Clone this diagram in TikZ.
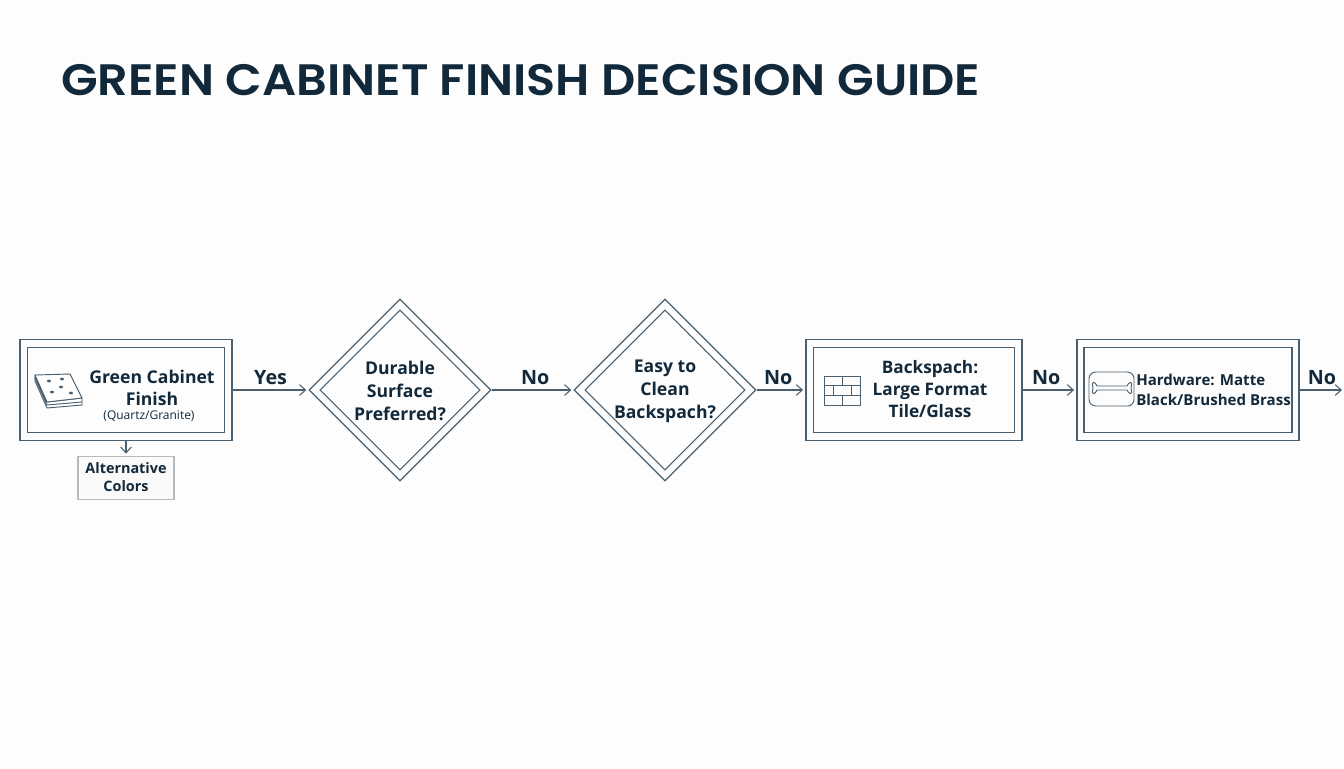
\documentclass[tikz,border=0pt]{standalone}
\usepackage{fontspec}
\setmainfont{Open Sans}
\newfontfamily\titlefont[FakeStretch=1.085]{Poppins SemiBold}
\usetikzlibrary{shapes,arrows.meta,positioning,calc}
\definecolor{inkdark}{HTML}{12293B}
\definecolor{linedark}{HTML}{4A5F6F}
\definecolor{linegrey}{HTML}{B4BABD}
\definecolor{pagebg}{HTML}{FDFDFD}
\tikzstyle{block} = [draw=linedark, rectangle, line width=1.4pt, inner sep=0pt, minimum height=75.75pt]
\tikzstyle{innerblock} = [draw=linedark, rectangle, line width=1.2pt, inner sep=0pt, minimum height=63.75pt]
\tikzstyle{decision} = [draw=linedark, diamond, line width=1pt, inner sep=0pt, minimum width=136.5pt, minimum height=136.5pt]
\tikzstyle{innerdecision} = [draw=linedark, diamond, line width=.8pt, inner sep=0pt, minimum width=120pt, minimum height=120pt]
\tikzstyle{coord} = [coordinate]
\tikzstyle{connector} = [-{Straight Barb[length=4.5pt,width=8pt]},line width=.8pt,draw=linedark,shorten >=1.5pt]
\tikzstyle{boxtext} = [text=inkdark, font=\fontsize{13.2pt}{16.5pt}\selectfont\bfseries, align=center, inner sep=0pt]
\tikzstyle{flowlabel} = [text=inkdark, font=\fontsize{14.8pt}{17pt}\selectfont\bfseries, inner sep=0pt, yshift=3.8pt]
\tikzstyle{icon} = [draw=linedark, line width=.7pt, line join=round]

\begin{document}
\begin{tikzpicture}[x=.75pt, y=-.75pt, auto]
    \fill [pagebg] (0,0) rectangle (1344,768);
    \useasboundingbox (0,0) rectangle (1344,768);

    \node (title) [anchor=west, text=inkdark, font=\fontsize{33pt}{38pt}\selectfont\titlefont, inner sep=0pt] at (61,80) {GREEN CABINET FINISH DECISION GUIDE};

    % flow line
    \node (finish) [block, minimum width=159pt] at (126,390) {};
    \node (durable) [decision, right of=finish, node distance=205.5pt] {};
    \node (clean) [decision, right of=durable, node distance=198.75pt] {};
    \node (tile) [block, minimum width=162pt, right of=clean, node distance=186.75pt] {};
    \node (hardware) [block, minimum width=166.5pt, right of=tile, node distance=205.5pt] {};
    \node (exit) [coord, right of=hardware, node distance=117pt] {};
    \node (colors) [draw=linegrey, rectangle, line width=1.2pt, fill=white!98!black, minimum width=72pt, minimum height=32.25pt, inner sep=0pt, below of=finish, node distance=66pt] {};

    \node (finishinner) [innerblock, minimum width=147.75pt] at (finish) {};
    \node (durableinner) [innerdecision] at (durable) {};
    \node (cleaninner) [innerdecision] at (clean) {};
    \node (tileinner) [innerblock, minimum width=150.75pt] at (tile) {};
    \node (hardwareinner) [innerblock, minimum width=156pt] at (hardware) {};

    % texts
    \node (finishtext) [boxtext] at (152,388) {Green Cabinet\\Finish};
    \node (finishsub) [text=inkdark, font=\fontsize{9pt}{10pt}\selectfont, inner sep=0pt] at (149,416) {(Quartz/Granite)};
    \node (durabletext) [boxtext, font=\fontsize{13.2pt}{17pt}\selectfont\bfseries, yshift=-.7pt] at (durable) {Durable\\Surface\\Preferred?};
    \node (cleantext) [boxtext, font=\fontsize{13.2pt}{17pt}\selectfont\bfseries, yshift=-1pt] at (clean) {Easy to\\Clean\\Backspach?};
    \node (tiletext) [boxtext, font=\fontsize{12.9pt}{16.5pt}\selectfont\bfseries] at (930,389) {Backspach:\\Large Format\\Tile/Glass};
    \node (hardwaretext) [boxtext, align=left, font=\fontsize{11.3pt}{15pt}\selectfont\bfseries] at (1213.5,390) {Hardware: Matte\\Black/Brushed Brass};
    \node (colorstext) [boxtext, font=\fontsize{10.8pt}{14pt}\selectfont\bfseries, yshift=.7pt] at (colors) {Alternative\\Colors};

    % connectors
    \draw [connector] (finish) -- node [flowlabel, above] {Yes} (durable);
    \draw [connector] (durable) -- node [flowlabel, above, xshift=2pt] {No} (clean);
    \draw [connector] (clean) -- node [flowlabel, above, xshift=-2pt] {No} (tile);
    \draw [connector] (tile) -- node [flowlabel, above, xshift=-2.5pt] {No} (hardware);
    \draw [connector] (hardware) -- node [flowlabel, above] {No} (exit);
    \draw [connector] (finish) -- (colors);

    % slab icon
    \draw [icon, fill=white] (35,381) -- (47,408) -- (82,405) -- (82,401) -- (47,404) -- (35,377) -- cycle;
    \draw [icon, fill=white] (35,378) -- (47,405) -- (82,402) -- (82,398) -- (47,402) -- (35,375) -- cycle;
    \draw [icon, fill=white] (35,375) -- (70,374) -- (82,398) -- (47,402) -- cycle;
    \foreach \dotx/\doty in {49/381, 62/379, 52/392, 61/387, 71/393}
        \fill [linedark] (\dotx,\doty) ellipse (2 and 1.4);

    % brick icon
    \draw [icon] (824,376) rectangle (860,405);
    \draw [icon] (824,385.7) -- (860,385.7) (824,395.3) -- (860,395.3);
    \draw [icon] (842,376) -- (842,385.7) (833,385.7) -- (833,395.3) (851,385.7) -- (851,395.3) (842,395.3) -- (842,405);

    % handle icon
    \draw [icon, rounded corners=5pt] (1089,372) rectangle (1134,406);
    \draw [icon] (1097,386) -- (1127,386) .. controls (1130,380) and (1133,382) .. (1131,388)
        .. controls (1133,394) and (1130,396) .. (1127,390) -- (1097,390)
        .. controls (1094,396) and (1091,394) .. (1093,388)
        .. controls (1091,382) and (1094,380) .. (1097,386) -- cycle;
\end{tikzpicture}
\end{document}
